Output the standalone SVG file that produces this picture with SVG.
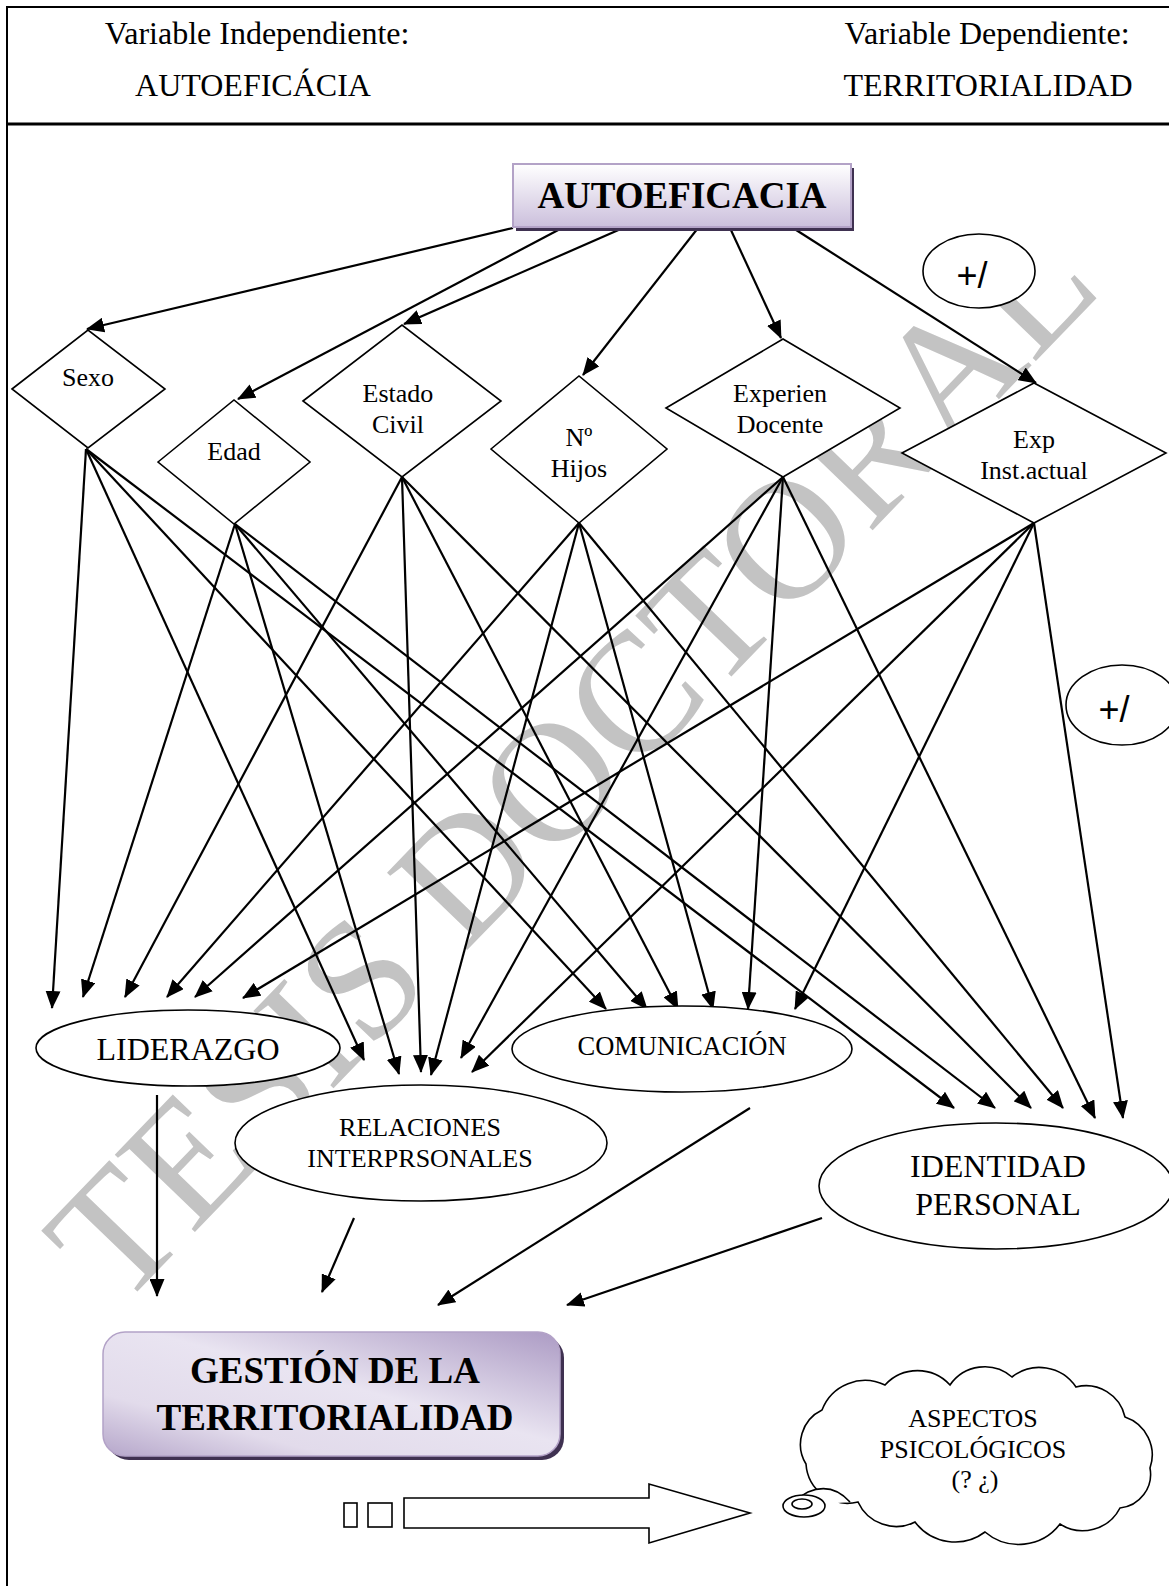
<svg xmlns="http://www.w3.org/2000/svg" width="1169" height="1586" viewBox="0 0 1169 1586">
  <defs>
    <style>
      .serif { font-family: "Liberation Serif", "Times New Roman", serif; fill: #000; }
      .hdr { font-size: 32px; text-anchor: middle; }
      .dlab { font-size: 26px; text-anchor: middle; }
      .elab { text-anchor: middle; }
      .bold { font-weight: bold; text-anchor: middle; }
      .pm { font-family: "Liberation Sans", Arial, sans-serif; font-size: 36px; text-anchor: middle; fill: #000; }
      .shape { fill: #fff; stroke: #000; stroke-width: 1.6; }
      .conn line { stroke: #000; stroke-width: 2.2; marker-end: url(#ah); }
      .wm { font-family: "Liberation Serif", "Times New Roman", serif; fill: #c3c3c3; font-size: 170px; text-anchor: middle; }
    </style>
    <marker id="ah" viewBox="0 0 18 15" refX="17" refY="7.5" markerWidth="18" markerHeight="15" markerUnits="userSpaceOnUse" orient="auto">
      <path d="M0,0 L18,7.5 L0,15 z" fill="#000"/>
    </marker>
    <linearGradient id="gTop" x1="0" y1="0" x2="0" y2="1">
      <stop offset="0" stop-color="#ffffff"/>
      <stop offset="1" stop-color="#cbbfdc"/>
    </linearGradient>
    <linearGradient id="gBottom" x1="1" y1="0" x2="0" y2="1">
      <stop offset="0" stop-color="#ac9bc4"/>
      <stop offset="0.45" stop-color="#e9e4f1"/>
      <stop offset="0.75" stop-color="#e2dbeb"/>
      <stop offset="1" stop-color="#b5a6ca"/>
    </linearGradient>
  </defs>

  <rect width="1169" height="1586" fill="#fff"/>

  <!-- background watermark -->
  <text class="wm" transform="translate(612,800) rotate(-46)">TESIS DOCTORAL</text>

  <!-- page frame and header -->
  <g id="frame">
    <path d="M7,1586 V7 H1169" fill="none" stroke="#000" stroke-width="2"/>
    <line x1="7" y1="124" x2="1169" y2="124" stroke="#000" stroke-width="3"/>
    <text class="serif hdr" x="257" y="44">Variable Independiente:</text>
    <text class="serif hdr" x="253" y="96">AUTOEFICÁCIA</text>
    <text class="serif hdr" x="987" y="44">Variable Dependiente:</text>
    <text class="serif hdr" x="988" y="96">TERRITORIALIDAD</text>
  </g>

  <!-- connectors -->
  <g id="connectors" class="conn">
    <!-- AUTOEFICACIA to the six variables -->
    <line x1="513" y1="228" x2="87" y2="329"/>
    <line x1="562" y1="228" x2="238" y2="399"/>
    <line x1="623" y1="228" x2="404" y2="324"/>
    <line x1="698" y1="228" x2="583" y2="375"/>
    <line x1="730" y1="228" x2="781" y2="338"/>
    <line x1="793" y1="228" x2="1036" y2="383"/>
    <!-- Sexo -->
    <line x1="86" y1="449" x2="52" y2="1008"/>
    <line x1="86" y1="449" x2="364" y2="1060"/>
    <line x1="86" y1="449" x2="606" y2="1009"/>
    <line x1="86" y1="449" x2="954" y2="1108"/>
    <!-- Edad -->
    <line x1="235" y1="524" x2="83" y2="997"/>
    <line x1="235" y1="524" x2="399" y2="1074"/>
    <line x1="235" y1="524" x2="647" y2="1009"/>
    <line x1="235" y1="524" x2="995" y2="1108"/>
    <!-- Estado Civil -->
    <line x1="402" y1="477" x2="125" y2="997"/>
    <line x1="402" y1="477" x2="421" y2="1072"/>
    <line x1="402" y1="477" x2="678" y2="1009"/>
    <line x1="402" y1="477" x2="1031" y2="1108"/>
    <!-- Nº Hijos -->
    <line x1="579" y1="523" x2="167" y2="997"/>
    <line x1="579" y1="523" x2="431" y2="1075"/>
    <line x1="579" y1="523" x2="713" y2="1009"/>
    <line x1="579" y1="523" x2="1063" y2="1108"/>
    <!-- Experien Docente -->
    <line x1="783" y1="477" x2="195" y2="997"/>
    <line x1="783" y1="477" x2="461" y2="1058"/>
    <line x1="783" y1="477" x2="748" y2="1009"/>
    <line x1="783" y1="477" x2="1095" y2="1118"/>
    <!-- Exp Inst.actual -->
    <line x1="1034" y1="523" x2="243" y2="998"/>
    <line x1="1034" y1="523" x2="472" y2="1072"/>
    <line x1="1034" y1="523" x2="795" y2="1009"/>
    <line x1="1034" y1="523" x2="1123" y2="1118"/>
    <!-- dimensions to GESTIÓN -->
    <line x1="157" y1="1095" x2="157" y2="1296"/>
    <line x1="354" y1="1218" x2="322" y2="1292"/>
    <line x1="750" y1="1108" x2="438" y2="1305"/>
    <line x1="822" y1="1218" x2="567" y2="1305"/>
  </g>

  <!-- independent variable -->
  <g id="autoeficacia">
    <rect x="516" y="168" width="338" height="63" fill="#3f3151"/>
    <rect x="513" y="164" width="338" height="63" fill="url(#gTop)" stroke="#b3a2c7" stroke-width="2"/>
    <text class="serif bold" x="682" y="208" font-size="37">AUTOEFICACIA</text>
  </g>

  <g id="sexo">
    <polygon class="shape" points="12,389 88,330 165,389 88,448"/>
    <text class="serif dlab" x="88" y="386">Sexo</text>
  </g>
  <g id="edad">
    <polygon class="shape" points="158,462 234,400 310,462 234,524"/>
    <text class="serif dlab" x="234" y="460">Edad</text>
  </g>
  <g id="estado-civil">
    <polygon class="shape" points="303,401 402,325 501,401 402,477"/>
    <text class="serif dlab" x="398" y="402">Estado</text>
    <text class="serif dlab" x="398" y="433">Civil</text>
  </g>
  <g id="num-hijos">
    <polygon class="shape" points="491,449 579,376 667,449 579,523"/>
    <text class="serif dlab" x="579" y="446">Nº</text>
    <text class="serif dlab" x="579" y="477">Hijos</text>
  </g>
  <g id="experiencia-docente">
    <polygon class="shape" points="666,408 783,339 900,408 783,477"/>
    <text class="serif dlab" x="780" y="402">Experien</text>
    <text class="serif dlab" x="780" y="433">Docente</text>
  </g>
  <g id="exp-inst-actual">
    <polygon class="shape" points="902,453 1034,383 1166,453 1034,523"/>
    <text class="serif dlab" x="1034" y="448">Exp</text>
    <text class="serif dlab" x="1034" y="479">Inst.actual</text>
  </g>

  <g id="signo-1">
    <ellipse class="shape" cx="979" cy="271" rx="56" ry="37"/>
    <text class="pm" x="972" y="288">+/</text>
  </g>
  <g id="signo-2">
    <ellipse class="shape" cx="1122" cy="705" rx="56" ry="40"/>
    <text class="pm" x="1114" y="722">+/</text>
  </g>

  <!-- dependent dimensions -->
  <g id="liderazgo">
    <ellipse class="shape" cx="188" cy="1048" rx="152" ry="38"/>
    <text class="serif elab" x="188" y="1060" font-size="32">LIDERAZGO</text>
  </g>
  <g id="relaciones">
    <ellipse class="shape" cx="421" cy="1143" rx="186" ry="58"/>
    <text class="serif elab" x="420" y="1136" font-size="26">RELACIONES</text>
    <text class="serif elab" x="420" y="1167" font-size="26">INTERPRSONALES</text>
  </g>
  <g id="comunicacion">
    <ellipse class="shape" cx="682" cy="1049" rx="170" ry="43"/>
    <text class="serif elab" x="682" y="1055" font-size="26.5">COMUNICACIÓN</text>
  </g>
  <g id="identidad">
    <ellipse class="shape" cx="996" cy="1186" rx="177" ry="63"/>
    <text class="serif elab" x="998" y="1177" font-size="32">IDENTIDAD</text>
    <text class="serif elab" x="998" y="1215" font-size="32">PERSONAL</text>
  </g>

  <!-- dependent variable -->
  <g id="gestion">
    <rect x="107" y="1336" width="457" height="124" rx="22" fill="#3f3151"/>
    <rect x="103" y="1332" width="457" height="124" rx="22" fill="url(#gBottom)" stroke="#b3a2c7" stroke-width="1.5"/>
    <text class="serif bold" x="335" y="1383" font-size="37">GESTIÓN DE LA</text>
    <text class="serif bold" x="335" y="1430" font-size="37">TERRITORIALIDAD</text>
  </g>

  <!-- block arrow with its two leading squares -->
  <g id="flecha">
    <rect x="344" y="1503" width="13" height="24" fill="#fff" stroke="#000" stroke-width="1.6"/>
    <rect x="368" y="1503" width="24" height="24" fill="#fff" stroke="#000" stroke-width="1.6"/>
    <path d="M404,1498 H649 V1484 L750,1513 L649,1543 V1528 H404 Z" fill="#fff" stroke="#000" stroke-width="1.6"/>
  </g>

  <!-- thought cloud -->
  <g id="aspectos">
    <path class="shape" d="M858,1502
      A42,42 0 0 1 806,1464
      A38,38 0 0 1 822,1410
      A46,46 0 0 1 885,1385
      A44,44 0 0 1 950,1385
      A42,42 0 0 1 1012,1377
      A44,44 0 0 1 1076,1387
      A40,40 0 0 1 1125,1417
      A40,40 0 0 1 1150,1468
      A34,34 0 0 1 1120,1508
      A42,42 0 0 1 1060,1524
      A52,52 0 0 1 985,1532
      A50,50 0 0 1 915,1522
      A42,42 0 0 1 858,1502 Z"/>
    <path class="shape" d="M850,1502 Q832,1482 808,1492 Q796,1498 800,1506"/>
    <ellipse class="shape" cx="804" cy="1506" rx="21" ry="11"/>
    <ellipse class="shape" cx="802" cy="1504" rx="10" ry="5"/>
    <text class="serif elab" x="973" y="1427" font-size="26">ASPECTOS</text>
    <text class="serif elab" x="973" y="1458" font-size="26">PSICOLÓGICOS</text>
    <text class="serif elab" x="975" y="1488" font-size="26">(? ¿)</text>
  </g>
</svg>
